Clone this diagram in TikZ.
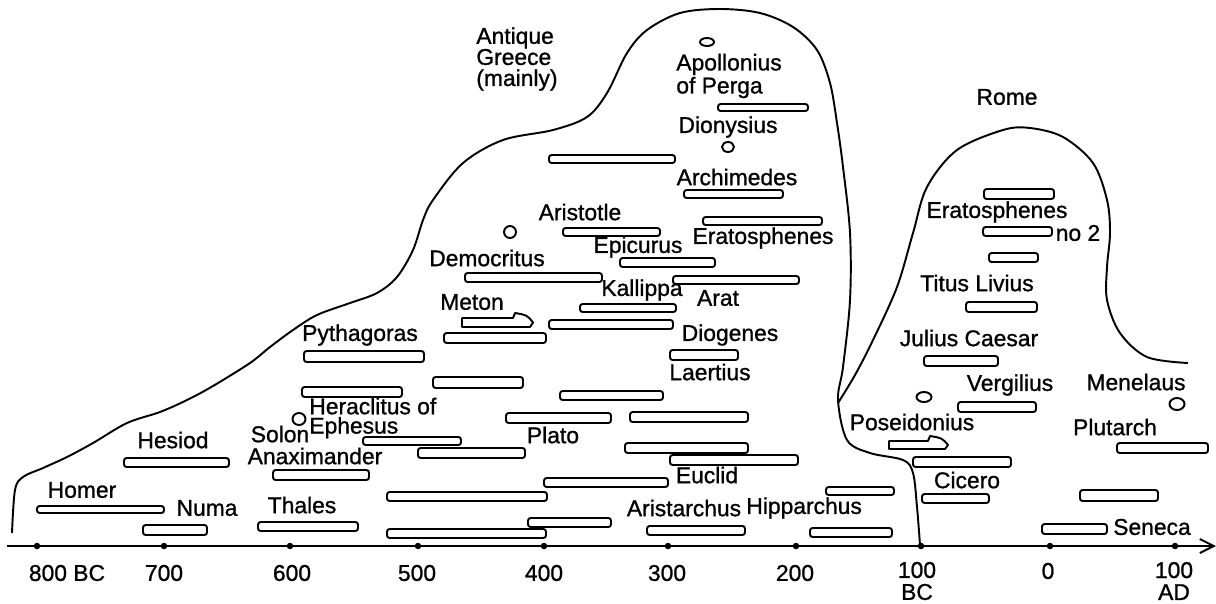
\documentclass[tikz,border=0pt]{standalone}
\usepackage{fontspec}
\setmainfont{Liberation Sans}[FakeBold=1]
\usetikzlibrary{arrows.meta}

\tikzset{
  lifebar/.style={draw, line width=1.1pt, rounded corners=1.5pt},
  person/.style={font=\fontsize{13}{12}\selectfont, inner sep=0pt},
  yearlbl/.style={font=\fontsize{13}{12.5}\selectfont, inner sep=0pt, align=center},
  contour/.style={line width=1.1pt},
  tomb/.style={line width=1.1pt},
}

\begin{document}
\begin{tikzpicture}[x=0.02cm, y=-0.02cm, >={Straight Barb[length=0.28cm,width=0.28cm]}]
\useasboundingbox (0,0) rectangle (1216,603);
% contour Grece
\draw[contour] plot[smooth, tension=0.55] coordinates {(12,533) (15,490) (23,477) (43,468)
  (67,457) (93,443) (127,423) (160,412) (187,400) (213,386) (250,363) (270,347)
  (293,330) (317,315) (350,303) (377,293) (397,277) (413,250) (423,220) (433,200) (463,163)
  (503,140) (553,130) (587,117) (607,93) (627,53) (647,30) (680,13) (720,9) (760,13)
  (793,27) (817,50) (830,83) (837,123) (843,167) (850,233) (850,300) (843,367) (838,400)
  (847,440) (870,453) (903,460) (913,473) (917,507) (920,545)};
% contour Rome
\draw[contour] plot[smooth, tension=0.55] coordinates {(838,403) (855,375) (873,340)
  (897,287) (913,233) (927,187) (957,150) (1003,130) (1030,128) (1063,137) (1093,163)
  (1107,200) (1110,233) (1107,267) (1107,300) (1120,333) (1147,357) (1188,363)};
\node[person, align=left, anchor=west] (greece) at (476,59) {Antique\\Greece\\(mainly)};
\node[person] (rome) at (1007,97) {Rome};
% axe du temps
\coordinate (t0) at (7,546);
\coordinate (tend) at (1216,546);
\draw[line width=1.1pt, ->] (t0) -- (tend);
\foreach \x in {37,164,290,418,544,668,796,921,1050,1175}
  \fill (\x,546) circle [radius=0.065cm];
\node[yearlbl] (y800) at (67,573) {800 BC};
\node[yearlbl] (y700) at (164,573) {700};
\node[yearlbl] (y600) at (292,573) {600};
\node[yearlbl] (y500) at (417,573) {500};
\node[yearlbl] (y400) at (544,573) {400};
\node[yearlbl] (y300) at (667,573) {300};
\node[yearlbl] (y200) at (795,573) {200};
\node[yearlbl] (y100bc) at (917,581) {100\\BC};
\node[yearlbl] (y0) at (1048,571) {0};
\node[yearlbl] (y100ad) at (1174,581) {100\\AD};
% barres de vie (Grece)
\foreach \a/\b/\c/\d in {37/506/164/513, 143/525/207/535, 124/458/229/467, 258/522/358/531,
  273/470/369/480, 302/387/402/397, 363/437/461/445, 418/448/525/458, 433/377/523/388,
  304/351/424/362, 444/333/546/343, 506/413/611/423, 560/391/663/400, 630/412/748/422,
  625/443/748/453, 670/455/798/465, 544/478/668/487, 387/492/547/501, 528/518/611/527,
  387/529/546/538, 647/526/745/535, 810/528/892/537, 826/487/894/495, 465/273/602/282,
  549/320/673/329, 580/304/676/312, 670/350/738/360, 673/276/799/284,
  620/258/715/267, 563/228/660/236, 703/217/822/225, 684/190/783/198, 549/155/675/163,
  718/104/808/111}
  \draw[lifebar] (\a,\b) rectangle (\c,\d);
% barres de vie (Rome)
\foreach \a/\b/\c/\d in {984/189/1054/199, 983/227/1052/236, 989/253/1038/262,
  966/302/1037/312, 924/356/998/366, 958/402/1036/412, 913/457/1011/467,
  922/494/989/503, 1042/524/1107/534, 1080/490/1158/501, 1117/443/1208/453}
  \draw[lifebar] (\a,\b) rectangle (\c,\d);
% barres en fleche (Meton, Poseidonius)
\draw[tomb, line join=round] (462,318) -- (513,318) -- (515,313)
  .. controls (527,315) .. (533,322.5) -- (530,327) -- (462,327) -- cycle;
\draw[tomb, line join=round] (889,441) -- (928,441) -- (930,436)
  .. controls (942,438) .. (948,445) -- (945,449) -- (889,449) -- cycle;
% cercles
\draw[tomb] (707,42) ellipse [x radius=0.14cm, y radius=0.08cm];
\draw[tomb] (728,147) ellipse [x radius=0.12cm, y radius=0.1cm];
\draw[tomb] (510,232) ellipse [x radius=0.12cm, y radius=0.12cm];
\draw[tomb] (299,419) ellipse [x radius=0.13cm, y radius=0.12cm];
\draw[tomb] (924,397) ellipse [x radius=0.15cm, y radius=0.1cm];
\draw[tomb] (1177,404) ellipse [x radius=0.15cm, y radius=0.12cm];
% noms (Grece)
\node[person] (homer) at (82,490) {Homer};
\node[person] (numa) at (207,508) {Numa};
\node[person] (hesiod) at (173,440) {Hesiod};
\node[person] (thales) at (302,505) {Thales};
\node[person] (anaximander) at (315,456) {Anaximander};
\node[person] (solon) at (280,434) {Solon};
\node[person, align=left, anchor=west, font=\fontsize{13}{11}\selectfont] (heraclitus)
  at (309,418) {Heraclitus of\\Ephesus};
\node[person] (pythagoras) at (360,335) {Pythagoras};
\node[person] (meton) at (472,302) {Meton};
\node[person] (democritus) at (487,258) {Democritus};
\node[person] (aristotle) at (580,212) {Aristotle};
\node[person] (epicurus) at (638,247) {Epicurus};
\node[person] (kallippa) at (642,290) {Kallippa};
\node[person] (arat) at (718,298) {Arat};
\node[person] (diogenes) at (730,335) {Diogenes};
\node[person] (laertius) at (710,372) {Laertius};
\node[person] (eratosphenes) at (763,238) {Eratosphenes};
\node[person] (archimedes) at (737,177) {Archimedes};
\node[person] (dionysius) at (728,127) {Dionysius};
\node[person, align=left, anchor=west, font=\fontsize{13}{11.9}\selectfont] (apollonius)
  at (676,76) {Apollonius\\of Perga};
\node[person] (plato) at (553,435) {Plato};
\node[person] (euclid) at (707,475) {Euclid};
\node[person] (aristarchus) at (684,508) {Aristarchus};
\node[person, anchor=west] (hipparchus) at (746,508) {Hipparchus};
% noms (Rome)
\node[person] (eratosphenes2) at (997,212) {Eratosphenes};
\node[person] (no2) at (1078,233) {no 2};
\node[person] (titus) at (977,283) {Titus Livius};
\node[person] (caesar) at (969,338) {Julius Caesar};
\node[person] (vergilius) at (1010,385) {Vergilius};
\node[person] (poseidonius) at (912,422) {Poseidonius};
\node[person] (cicero) at (967,480) {Cicero};
\node[person] (menelaus) at (1136,382) {Menelaus};
\node[person] (plutarch) at (1115,427) {Plutarch};
\node[person] (seneca) at (1152,527) {Seneca};
\end{tikzpicture}
\end{document}
